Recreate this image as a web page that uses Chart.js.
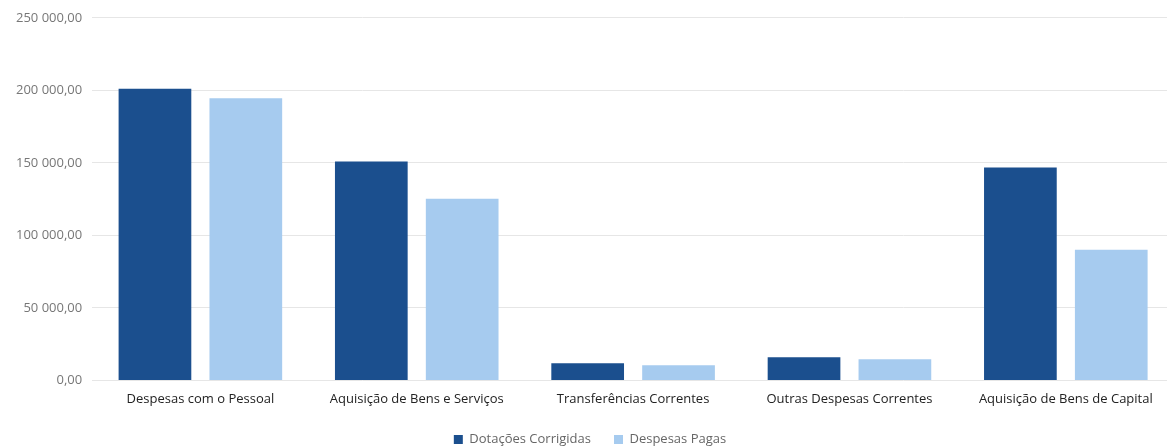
<!DOCTYPE html>
<html>
<head>
<meta charset="utf-8">
<script src="https://cdn.jsdelivr.net/npm/chart.js@4"></script>
<style>
  html, body { margin: 0; padding: 0; background: #fff; overflow: hidden; }
  #wrap { width: 1176px; height: 446px; position: relative; }
</style>
</head>
<body>
<div id="wrap"><canvas id="chart-canvas"></canvas></div>
<script>
// Chart data
const categories = [
  "Despesas com o Pessoal",
  "Aquisição de Bens e Serviços",
  "Transferências Correntes",
  "Outras Despesas Correntes",
  "Aquisição de Bens de Capital"
];
const dotacoesCorrigidas = [201000, 151000, 11800, 15900, 146800];
const despesasPagas = [194600, 125300, 10400, 14500, 90000];
const yTicks = [0, 50000, 100000, 150000, 200000, 250000];

// Portuguese number format: "250 000,00"
function formatPt(v) {
  const parts = v.toFixed(2).split(".");
  const intPart = parts[0].replace(/\B(?=(\d{3})+(?!\d))/g, " ");
  return intPart + "," + parts[1];
}

const ctx = document.getElementById("chart-canvas").getContext("2d");
const myChart = new Chart(ctx, {
  type: "bar",
  data: {
    labels: categories,
    datasets: [
      {
        label: "Dotações Corrigidas",
        data: dotacoesCorrigidas,
        backgroundColor: "#1b4f8e",
        categoryPercentage: 0.84,
        barPercentage: 0.8,
      },
      {
        label: "Despesas Pagas",
        data: despesasPagas,
        backgroundColor: "#a6cbef",
        categoryPercentage: 0.84,
        barPercentage: 0.8,
      },
    ],
  },
  options: {
    responsive: true,
    maintainAspectRatio: false,
    animation: false,
    layout: {
      // negative bottom pushes the legend down towards the edge
      padding: { left: 6, right: 2, top: 11, bottom: -10 },
    },
    plugins: {
      legend: {
        position: "bottom",
        labels: {
          boxWidth: 9,
          boxHeight: 9,
          padding: 23,
          color: "#666",
          font: { family: "Open Sans", size: 13 },
        },
      },
      tooltip: { enabled: false },
    },
    scales: {
      x: {
        grid: { display: false },
        border: { display: false },
        ticks: {
          color: "#222",
          padding: 3,
          maxRotation: 0,
          font: { family: "Open Sans", size: 13 },
        },
      },
      y: {
        min: 0,
        max: 250000,
        afterBuildTicks: (axis) => {
          axis.ticks = yTicks.map((v) => ({ value: v }));
        },
        grid: { color: "#e6e6e6", drawTicks: false },
        border: { display: false },
        ticks: {
          color: "#777",
          padding: 10,
          font: { family: "Open Sans", size: 13 },
          callback: (v) => formatPt(v),
        },
      },
    },
  },
});
</script>
</body>
</html>
